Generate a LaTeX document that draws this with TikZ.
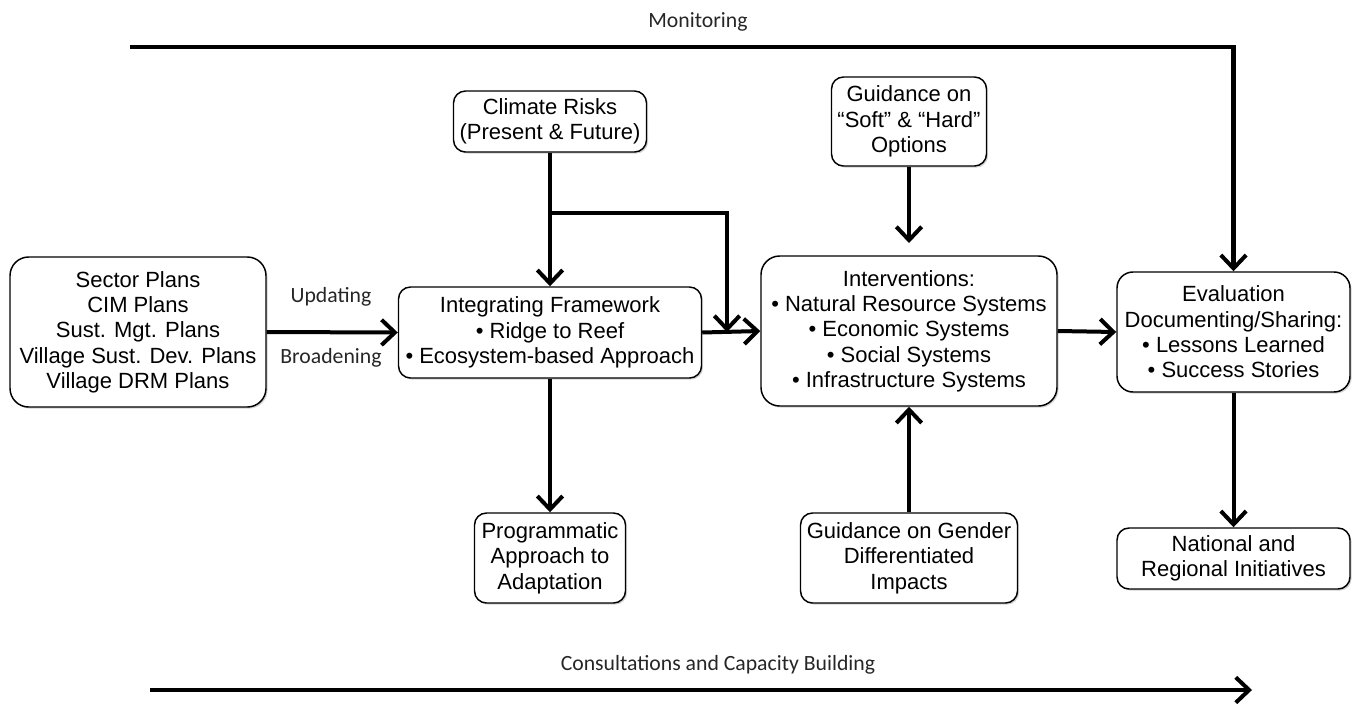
\documentclass[tikz,border=0pt]{standalone}
\usepackage{fontspec}
\setmainfont{Liberation Sans}
\newfontfamily\lblfont{Carlito}
\usetikzlibrary{arrows.meta,shadows}
\begin{document}
\begin{tikzpicture}[x=0.75pt,y=-0.75pt,
 box/.style={draw, line width=1.1pt, rounded corners=9pt, fill=white, align=center,
   font=\fontsize{16.5}{19}\selectfont, inner sep=0pt,
   drop shadow={shadow xshift=1.2pt,shadow yshift=-1.2pt,opacity=0.35,fill=gray}},
 arr/.style={line width=3pt, -{Straight Barb[length=10pt,width=19pt,line width=3pt]}},
 lbl/.style={font=\lblfont\fontsize{16.3}{19}\selectfont, text=black!85}]
\useasboundingbox (0,0) rectangle (1353,704);

\node[box, rounded corners=14pt, minimum width=192pt, minimum height=112.5pt] (plans) at (138,332)
 {Sector Plans\\CIM Plans\\Sust. Mgt. Plans\\Village Sust. Dev. Plans\\Village DRM Plans};
\node[box, minimum width=227.25pt, minimum height=68.25pt] (frame) at (550,332.5)
 {Integrating Framework\\\textbullet\ Ridge to Reef\\\textbullet\ Ecosystem-based Approach};
\node[box, minimum width=144.75pt, minimum height=45.75pt] (clim) at (550,121.5)
 {Climate Risks\\(Present \& Future)};
\node[box, rounded corners=14pt, minimum width=222pt, minimum height=112.5pt] (int) at (909,331)
 {Interventions:\\\textbullet\ Natural Resource Systems\\\textbullet\ Economic Systems\\\textbullet\ Social Systems\\\textbullet\ Infrastructure Systems};
\node[box, minimum width=116.25pt, minimum height=66.75pt] (soft) at (909,121.5)
 {Guidance on\\“Soft” \& “Hard”\\Options};
\node[box, rounded corners=12pt, minimum width=174.75pt, minimum height=90pt] (eval) at (1233.5,332)
 {Evaluation\\Documenting/Sharing:\\\textbullet\ Lessons Learned\\\textbullet\ Success Stories};
\node[box, minimum width=174.75pt, minimum height=45.75pt] (nat) at (1233.5,558.5)
 {National and\\Regional Initiatives};
\node[box, minimum width=113.25pt, minimum height=67.5pt] (prog) at (550,558)
 {Programmatic\\Approach to\\Adaptation};
\node[box, minimum width=162.75pt, minimum height=67.5pt] (gen) at (909,558)
 {Guidance on Gender\\Differentiated\\Impacts};

\node[lbl] (mon) at (698,22) {Monitoring};
\node[lbl] (upd) at (331,297) {Updating};
\node[lbl] (brd) at (331,358) {Broadening};
\node[lbl] (cons) at (718,665) {Consultations and Capacity Building};

\coordinate (m0) at (130,47);
\coordinate (br) at (550,213);
\coordinate (mj) at (727,332);
\coordinate (sa) at (909,243);
\coordinate (c0) at (150,690);
\coordinate (c1) at (1252,690);

\draw[arr] (plans.east) -- (frame.west);
\draw[arr] (clim.south) -- (frame.north);
\draw[arr] (br) -| (mj);
\draw[arr] (frame.east) -- (int.west);
\draw[arr] (soft.south) -- (sa);
\draw[arr] (gen.north) -- (int.south);
\draw[arr] (int.east) -- (eval.west);
\draw[arr] (eval.south) -- (nat.north);
\draw[arr] (frame.south) -- (prog.north);
\draw[arr, line width=3.4pt] (m0) -| (eval.north);
\draw[arr, line width=3.4pt] (c0) -- (c1);
\end{tikzpicture}
\end{document}
